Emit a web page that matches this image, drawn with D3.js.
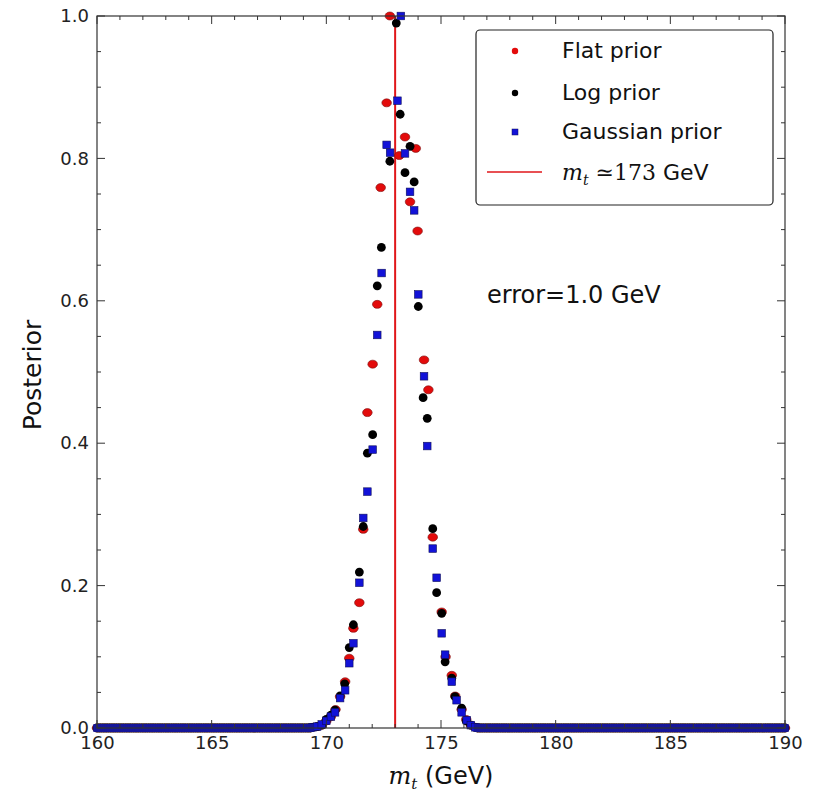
<!DOCTYPE html>
<html><head><meta charset="utf-8">
<script src="https://cdn.jsdelivr.net/npm/d3@7"></script>
<style>body{margin:0;background:#fff}svg{display:block}</style>
</head><body>
<svg id="chart" width="822" height="797"></svg>
<script>
// ---- data ----
const flatX = [169.4,169.6,169.8,170.0,170.2,170.4,170.6,170.82,171.0,171.18,171.44,171.61,171.79,172.02,172.22,172.37,172.63,172.77,173.18,173.43,173.65,173.9,173.98,174.26,174.45,174.64,175.03,175.2,175.47,175.62,175.9,176.1,176.3,176.5];
const flatY = [0.001,0.002,0.004,0.010,0.016,0.026,0.044,0.065,0.098,0.140,0.176,0.279,0.443,0.511,0.595,0.759,0.878,1.0,0.804,0.830,0.739,0.814,0.698,0.517,0.475,0.268,0.163,0.100,0.074,0.045,0.026,0.012,0.004,0.001];
const logX = [169.4,169.6,169.8,170.0,170.2,170.38,170.6,170.8,171.0,171.18,171.44,171.61,171.79,172.02,172.22,172.4,172.77,173.05,173.22,173.43,173.65,173.83,174.01,174.22,174.4,174.64,174.81,175.03,175.18,175.47,175.61,175.9,176.1,176.3,176.5];
const logY = [0.001,0.002,0.004,0.012,0.018,0.025,0.045,0.062,0.113,0.145,0.219,0.283,0.386,0.412,0.621,0.675,0.796,0.99,0.862,0.780,0.817,0.767,0.592,0.464,0.435,0.280,0.190,0.161,0.093,0.070,0.044,0.028,0.010,0.004,0.001];
const gaussX = [169.4,169.6,169.8,170.0,170.2,170.38,170.6,170.82,171.0,171.18,171.44,171.61,171.79,172.02,172.22,172.41,172.63,172.78,173.1,173.25,173.43,173.65,173.83,174.01,174.26,174.4,174.64,174.81,175.03,175.18,175.47,175.68,175.9,176.12,176.3,176.5];
const gaussY = [0.001,0.002,0.005,0.010,0.016,0.022,0.042,0.053,0.091,0.119,0.204,0.295,0.332,0.391,0.552,0.639,0.819,0.808,0.881,1.0,0.807,0.753,0.727,0.609,0.494,0.396,0.252,0.211,0.133,0.103,0.065,0.039,0.022,0.011,0.004,0.001];
// sampling grid outside the peak, where all three posteriors read 0
const tailX = d3.range(160, 169.35, 0.1).concat(d3.range(176.6, 190.01, 0.1));
const xTicks = [160,165,170,175,180,185,190];
const yTicks = [0.0,0.2,0.4,0.6,0.8,1.0];
const mtTrue = 173;
const seriesNames = ["Flat prior","Log prior","Gaussian prior"];

// ---- layout ----
const svg = d3.select("#chart");
const L = 97, R = 785, T = 16, B = 728;
const x = d3.scaleLinear().domain([160,190]).range([L,R]);
const y = d3.scaleLinear().domain([0,1]).range([B,T]);
const font = "DejaVu Sans, Liberation Sans, sans-serif";

const pts = (xs, ys) => xs.map((v,i)=>({x:v,y:ys[i]})).concat(tailX.map(v=>({x:v,y:0})));

const g = svg.append("g");
// red vertical line
g.append("line").attr("x1",x(mtTrue)).attr("x2",x(mtTrue)).attr("y1",y(0)).attr("y2",y(1))
  .attr("stroke","#e0161a").attr("stroke-width",2);

// flat: red circles
g.append("g").selectAll("ellipse").data(pts(flatX,flatY)).join("ellipse")
  .attr("cx",d=>x(d.x)).attr("cy",d=>y(d.y)).attr("rx",4.8).attr("ry",4.0)
  .attr("fill","#e30b0b").attr("stroke","#7a1010").attr("stroke-width",0.6);
// log: black circles
g.append("g").selectAll("circle").data(pts(logX,logY)).join("circle")
  .attr("cx",d=>x(d.x)).attr("cy",d=>y(d.y)).attr("r",4.4).attr("fill","#000");
// gaussian: blue squares
g.append("g").selectAll("rect").data(pts(gaussX,gaussY)).join("rect")
  .attr("x",d=>x(d.x)-3.8).attr("y",d=>y(d.y)-3.8).attr("width",7.6).attr("height",7.6)
  .attr("fill",d=>d.y===0?"#16169a":"#1212d8")
  .attr("stroke",d=>d.y===0?"none":"#10105a").attr("stroke-width",0.6);

// frame
svg.append("rect").attr("x",L).attr("y",T).attr("width",R-L).attr("height",B-T)
  .attr("fill","none").attr("stroke","#333").attr("stroke-width",1.2);

// ticks (inward, all four sides)
const ax = svg.append("g").attr("stroke","#333").attr("stroke-width",1);
const xMinor = d3.range(160,190.5,1), yMinor = d3.range(0,1.001,0.05);
xMinor.forEach(v=>{
  const major = Math.abs(v%5)<1e-6; const len = major?8:4;
  ax.append("line").attr("x1",x(v)).attr("x2",x(v)).attr("y1",B).attr("y2",B-len);
  ax.append("line").attr("x1",x(v)).attr("x2",x(v)).attr("y1",T).attr("y2",T+len);
});
yMinor.forEach(v=>{
  const major = Math.abs((v*5)-Math.round(v*5))<1e-6; const len = major?8:4;
  ax.append("line").attr("x1",L).attr("x2",L+len).attr("y1",y(v)).attr("y2",y(v));
  ax.append("line").attr("x1",R).attr("x2",R-len).attr("y1",y(v)).attr("y2",y(v));
});

// axes labels via d3 axis for text
const xAxis = d3.axisBottom(x).tickValues(xTicks).tickSize(0).tickPadding(8).tickFormat(d3.format("d"));
const gx = svg.append("g").attr("transform",`translate(0,${B})`).call(xAxis);
gx.select(".domain").remove();
gx.selectAll("text").attr("font-family",font).attr("font-size",18).attr("fill","#222");
const yAxis = d3.axisLeft(y).tickValues(yTicks).tickSize(0).tickPadding(8).tickFormat(d3.format(".1f"));
const gy = svg.append("g").attr("transform",`translate(${L},0)`).call(yAxis);
gy.select(".domain").remove();
gy.selectAll("text").attr("font-family",font).attr("font-size",18).attr("fill","#222");

// axis titles
svg.append("text").attr("transform",`translate(41,${(T+B)/2+3}) rotate(-90)`).attr("text-anchor","middle")
  .attr("font-family",font).attr("font-size",25).attr("fill","#111").text("Posterior");
const xt = svg.append("text").attr("x",(L+R)/2).attr("y",784).attr("text-anchor","middle")
  .attr("font-family",font).attr("font-size",24).attr("fill","#111");
xt.append("tspan").attr("font-family","DejaVu Serif, serif").attr("font-style","italic").text("m");
xt.append("tspan").attr("font-family","DejaVu Serif, serif").attr("font-style","italic").attr("font-size",15).attr("dy",5).text("t");
xt.append("tspan").attr("dy",-5).text(" (GeV)");

// annotation
svg.append("text").attr("x",487).attr("y",303).attr("font-family",font).attr("font-size",24).attr("fill","#111").text("error=1.0 GeV");

// legend
const lg = svg.append("g");
lg.append("rect").attr("x",476).attr("y",30).attr("width",297).attr("height",175).attr("rx",4)
  .attr("fill","#fff").attr("stroke","#222").attr("stroke-width",1.2);
const rows = [50,92,131,172];
lg.append("circle").attr("cx",515).attr("cy",rows[0]+1).attr("r",3.2).attr("fill","#e30b0b");
lg.append("circle").attr("cx",515).attr("cy",rows[1]+1).attr("r",3.2).attr("fill","#000");
lg.append("rect").attr("x",512).attr("y",rows[2]-2).attr("width",6).attr("height",6).attr("fill","#1212d8").attr("stroke","#10105a").attr("stroke-width",0.5);
lg.append("line").attr("x1",487).attr("x2",542).attr("y1",rows[3]).attr("y2",rows[3]).attr("stroke","#e0161a").attr("stroke-width",1.3);
seriesNames.forEach((n,i)=>{
  lg.append("text").attr("x",562).attr("y",rows[i]+8).attr("font-family",font).attr("font-size",22).attr("fill","#111").text(n);
});
const lt = lg.append("text").attr("x",562).attr("y",rows[3]+8).attr("font-family",font).attr("font-size",22).attr("fill","#111");
lt.append("tspan").attr("font-family","DejaVu Serif, serif").attr("font-style","italic").text("m");
lt.append("tspan").attr("font-family","DejaVu Serif, serif").attr("font-style","italic").attr("font-size",14).attr("dy",5).text("t");
lt.append("tspan").attr("font-family","DejaVu Serif, serif").attr("dy",-5).text(" \u2243173");
lt.append("tspan").text(" GeV");
</script>
</body></html>
